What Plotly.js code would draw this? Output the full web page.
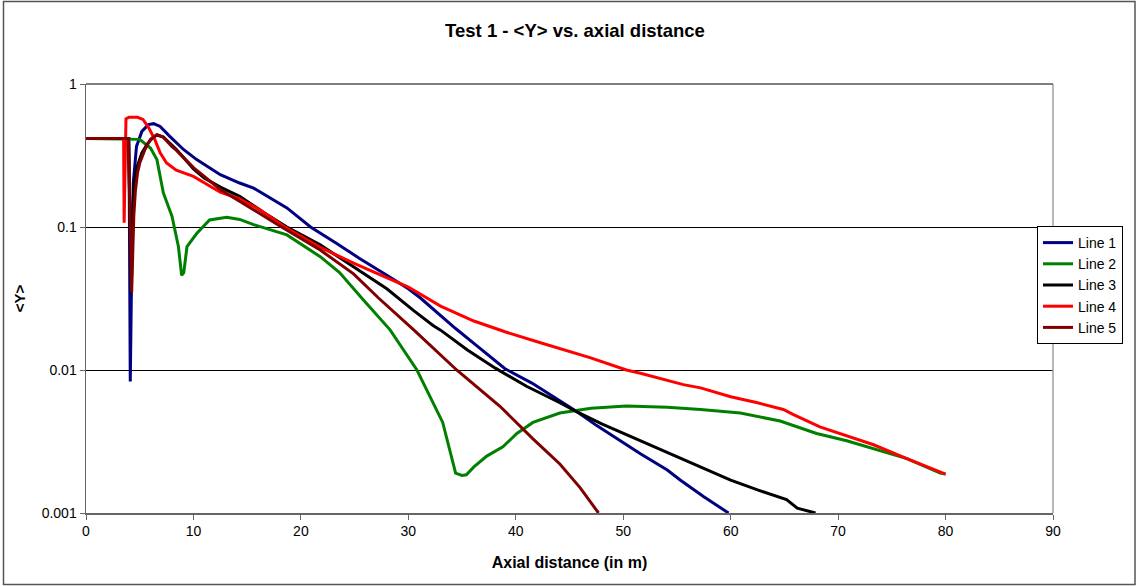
<!DOCTYPE html>
<html>
<head>
<meta charset="utf-8">
<script src="https://cdn.plot.ly/plotly-3.0.1.min.js"></script>
<style>html,body{margin:0;padding:0;background:#fff;}#chart{width:1138px;height:586px;}</style>
</head>
<body>
<div id="chart"></div>
<script>
// ---- data ----
const seriesNames = ["Line 1", "Line 2", "Line 3", "Line 4", "Line 5"];

const x1 = [0, 4.0, 4.12, 4.2, 4.3, 4.4, 4.7, 5.2, 5.8, 6.3, 6.9, 7.8, 9.1, 10.3, 11.5, 12.5, 14.3, 15.6, 18.7, 20.9, 23.3, 25.5, 28, 30, 31.1, 33, 34.4, 36.5, 39, 41.5, 44.1, 45.7, 47.5, 49.4, 51.6, 54.1, 55.3, 57.5, 59.8];
const y1 = [0.415, 0.415, 0.0083, 0.03, 0.1, 0.203, 0.366, 0.466, 0.52, 0.528, 0.505, 0.43, 0.347, 0.296, 0.259, 0.232, 0.203, 0.187, 0.136, 0.1, 0.077, 0.06, 0.046, 0.037, 0.032, 0.024, 0.0195, 0.0145, 0.0102, 0.0081, 0.0061, 0.0051, 0.0041, 0.0033, 0.0026, 0.002, 0.0017, 0.0013, 0.001];

const x2 = [0, 5.0, 6.0, 6.6, 7.2, 8.0, 8.6, 8.9, 9.1, 9.4, 10.3, 11.5, 13.1, 14.3, 15.6, 18.7, 21.8, 23.6, 25.8, 28.3, 30.8, 33.2, 34.4, 35, 35.4, 36.1, 37.3, 38.8, 40.1, 41.6, 44.1, 47, 50.3, 54.1, 57.2, 60.9, 64.6, 68, 70.8, 73.3, 76.4, 79.5, 80];
const y2 = [0.415, 0.41, 0.357, 0.296, 0.173, 0.119, 0.073, 0.046, 0.048, 0.073, 0.09, 0.112, 0.117, 0.113, 0.104, 0.088, 0.062, 0.048, 0.031, 0.0191, 0.01, 0.0043, 0.0019, 0.00183, 0.00185, 0.0021, 0.0025, 0.0029, 0.0036, 0.0043, 0.005, 0.0054, 0.0056, 0.0055, 0.0053, 0.005, 0.0044, 0.0036, 0.0032, 0.0028, 0.0024, 0.0019, 0.00187];

const x3 = [0, 3.95, 4.22, 4.3, 4.47, 4.8, 5.2, 5.7, 6.2, 6.6, 7.2, 8.4, 10, 11, 12.5, 14.3, 16.5, 18.7, 21.8, 24.9, 28, 30.5, 32.3, 33, 35.5, 38.1, 41, 44.1, 45.7, 48, 51.6, 55.3, 60, 62.5, 65.2, 66.2, 67.9];
const y3 = [0.415, 0.415, 0.035, 0.1, 0.2, 0.27, 0.33, 0.38, 0.42, 0.44, 0.425, 0.35, 0.255, 0.22, 0.19, 0.164, 0.127, 0.1, 0.075, 0.053, 0.037, 0.026, 0.0205, 0.019, 0.0138, 0.0103, 0.0077, 0.0059, 0.0051, 0.0042, 0.0032, 0.0024, 0.0017, 0.00145, 0.00124, 0.00108, 0.001];

const x4 = [0, 3.5, 3.55, 3.62, 3.72, 4.0, 4.8, 5.3, 5.8, 6.4, 6.9, 7.5, 8.4, 10, 12.5, 14.3, 16.2, 18.5, 21.8, 24.9, 28, 30, 31.1, 33, 36.1, 39, 42.3, 44.5, 46.9, 50.3, 51.6, 55.6, 57.2, 60, 62.5, 64.9, 65.8, 68.3, 70.2, 73.3, 76.4, 79.5, 80];
const y4 = [0.415, 0.415, 0.107, 0.3, 0.57, 0.585, 0.585, 0.565, 0.5, 0.41, 0.33, 0.28, 0.25, 0.226, 0.175, 0.157, 0.132, 0.1, 0.072, 0.056, 0.044, 0.038, 0.034, 0.028, 0.022, 0.0185, 0.0155, 0.0138, 0.0122, 0.01, 0.0095, 0.0079, 0.0075, 0.0065, 0.0059, 0.0053, 0.0049, 0.004, 0.0036, 0.003, 0.0024, 0.00195, 0.00187];

const x5 = [0, 3.95, 4.25, 4.45, 4.6, 4.8, 5.0, 5.5, 6.0, 6.6, 7.2, 8.0, 8.4, 10, 12.5, 14.3, 16.5, 18.2, 21.8, 24.9, 27.2, 30.5, 34.5, 38.5, 41.6, 44.1, 46, 47.7];
const y5 = [0.415, 0.415, 0.035, 0.12, 0.18, 0.24, 0.28, 0.35, 0.41, 0.442, 0.425, 0.365, 0.345, 0.26, 0.183, 0.152, 0.12, 0.1, 0.069, 0.047, 0.032, 0.0191, 0.01, 0.0056, 0.0033, 0.0022, 0.0015, 0.001];

const xTickVals = [0, 10, 20, 30, 40, 50, 60, 70, 80, 90];
const yTickVals = [1, 0.1, 0.01, 0.001];
const yTickText = ["1", "0.1", "0.01", "0.001"];
const colors = ["#000080", "#008000", "#000000", "#FF0000", "#800000"];

const xs = [x1, x2, x3, x4, x5];
const ys = [y1, y2, y3, y4, y5];

const FONT = "Liberation Sans, Arial, sans-serif";

const traces = seriesNames.map((name, i) => ({
  type: "scatter",
  mode: "lines",
  name: name,
  x: xs[i],
  y: ys[i],
  legendgroup: "g" + i,
  line: {color: colors[i], width: 3}
}));

// plot area geometry (for frame shapes in paper coords)
const L = 86, R = 85, T = 84, B = 73, W = 1138, H = 586;
const pw = W - L - R, ph = H - T - B;
const px2paper = p => (p - L) / pw;
const py2paper = p => (H - B - p) / ph;

const layout = {
  width: W, height: H,
  margin: {l: L, r: R, t: T, b: B, autoexpand: false},
  paper_bgcolor: "#ffffff",
  plot_bgcolor: "#ffffff",
  font: {family: FONT, size: 14, color: "#000"},
  title: {
    text: "<b>Test 1 - &lt;Y&gt; vs. axial distance</b>",
    font: {family: FONT, size: 18.5, color: "#000"},
    xref: "container", x: 575 / W, xanchor: "center",
    yref: "container", y: 1 - 31 / H, yanchor: "middle"
  },
  xaxis: {
    range: [0, 90],
    tickvals: xTickVals,
    ticks: "outside", ticklen: 5, tickcolor: "#666", tickwidth: 1,
    showgrid: false, zeroline: false,
    showline: true, linecolor: "#666", linewidth: 1.5,
    tickfont: {family: FONT, size: 14, color: "#000"},
    title: {text: "<b>Axial distance (in m)</b>", font: {family: FONT, size: 16, color: "#000"}, standoff: 18}
  },
  yaxis: {
    type: "log",
    range: [-3, 0],
    tickvals: yTickVals, ticktext: yTickText,
    ticks: "outside", ticklen: 5, tickcolor: "#666", tickwidth: 1,
    showgrid: true, gridcolor: "#000000", gridwidth: 1,
    zeroline: false,
    showline: true, linecolor: "#666", linewidth: 1.5,
    tickfont: {family: FONT, size: 14, color: "#000"},
    title: {text: "<b>&lt;Y&gt;</b>", font: {family: FONT, size: 15, color: "#000"}, standoff: 12}
  },
  showlegend: true,
  legend: {
    x: px2paper(1037), y: py2paper(226), xanchor: "left", yanchor: "top",
    bgcolor: "#ffffff", bordercolor: "#000000", borderwidth: 1,
    font: {family: FONT, size: 14, color: "#000"},
    tracegroupgap: 2.5,
    traceorder: "normal"
  },
  shapes: [
    {type: "rect", xref: "paper", yref: "paper", layer: "below",
     x0: px2paper(3.5), x1: px2paper(1135), y0: py2paper(584.5), y1: py2paper(1.5),
     line: {color: "#555", width: 1.5}, fillcolor: "rgba(0,0,0,0)"},
    {type: "line", xref: "paper", yref: "paper", layer: "above",
     x0: 1, x1: 1, y0: 0, y1: 1, line: {color: "#a0a0a0", width: 1.5}},
    {type: "line", xref: "paper", yref: "paper", layer: "above",
     x0: 0, x1: 1, y0: 1, y1: 1, line: {color: "#555", width: 1.5}}
  ]
};

Plotly.newPlot("chart", traces, layout, {staticPlot: true, displayModeBar: false});
</script>
</body>
</html>
